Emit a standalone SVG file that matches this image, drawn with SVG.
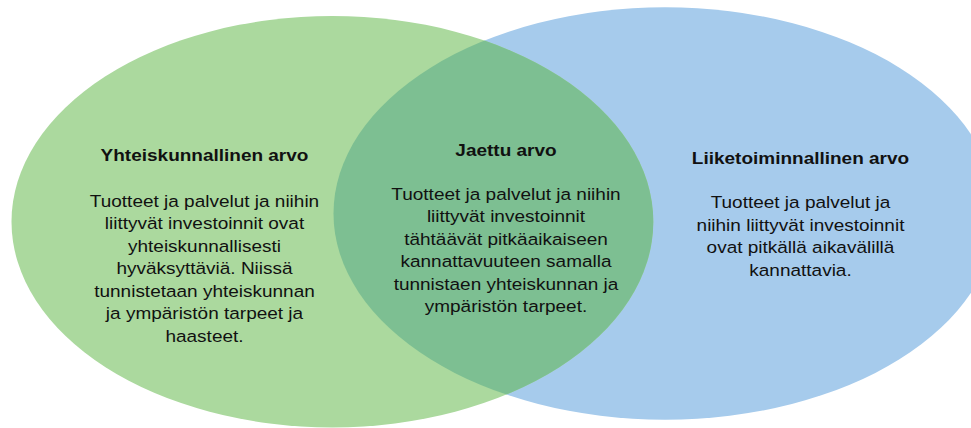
<svg xmlns="http://www.w3.org/2000/svg" width="971" height="428" viewBox="0 0 971 428">
  <style>
    .t { font-family: "Liberation Sans", Arial, sans-serif; font-size: 16.3px; fill: #111; text-anchor: middle; }
    .h { font-weight: bold; }
  </style>
  <defs>
    <clipPath id="blueClip">
      <ellipse cx="665" cy="213.5" rx="331.5" ry="206.2"/>
    </clipPath>
  </defs>
  <rect width="971" height="428" fill="#fff"/>
  <g id="business">
    <ellipse cx="665" cy="213.5" rx="331.5" ry="206.2" fill="#A6CBEC"/>
  </g>
  <g id="society">
    <ellipse cx="332.4" cy="221.7" rx="320.9" ry="205.7" fill="#ABD99E"/>
  </g>
  <g id="shared">
    <ellipse cx="332.4" cy="221.7" rx="320.9" ry="205.7" fill="#7DBF92" clip-path="url(#blueClip)"/>
  </g>
  <g id="society-text" transform="translate(204.5 0) scale(1.165 1)">
    <text class="t h" x="0" y="161">Yhteiskunnallinen arvo</text>
    <text class="t" x="0" y="206.7">Tuotteet ja palvelut ja niihin</text>
    <text class="t" x="0" y="229.2">liittyvät investoinnit ovat</text>
    <text class="t" x="0" y="251.7">yhteiskunnallisesti</text>
    <text class="t" x="0" y="274.2">hyväksyttäviä. Niissä</text>
    <text class="t" x="0" y="296.7">tunnistetaan yhteiskunnan</text>
    <text class="t" x="0" y="319.2">ja ympäristön tarpeet ja</text>
    <text class="t" x="0" y="341.7">haasteet.</text>
  </g>
  <g id="shared-text" transform="translate(506 0) scale(1.165 1)">
    <text class="t h" x="0" y="156">Jaettu arvo</text>
    <text class="t" x="0" y="200">Tuotteet ja palvelut ja niihin</text>
    <text class="t" x="0" y="222.5">liittyvät investoinnit</text>
    <text class="t" x="0" y="245">tähtäävät pitkäaikaiseen</text>
    <text class="t" x="0" y="267.5">kannattavuuteen samalla</text>
    <text class="t" x="0" y="290">tunnistaen yhteiskunnan ja</text>
    <text class="t" x="0" y="312.5">ympäristön tarpeet.</text>
  </g>
  <g id="business-text" transform="translate(800.5 0) scale(1.165 1)">
    <text class="t h" x="0" y="164.3">Liiketoiminnallinen arvo</text>
    <text class="t" x="0" y="208.3">Tuotteet ja palvelut ja</text>
    <text class="t" x="0" y="230.8">niihin liittyvät investoinnit</text>
    <text class="t" x="0" y="253.3">ovat pitkällä aikavälillä</text>
    <text class="t" x="0" y="275.8">kannattavia.</text>
  </g>
</svg>
